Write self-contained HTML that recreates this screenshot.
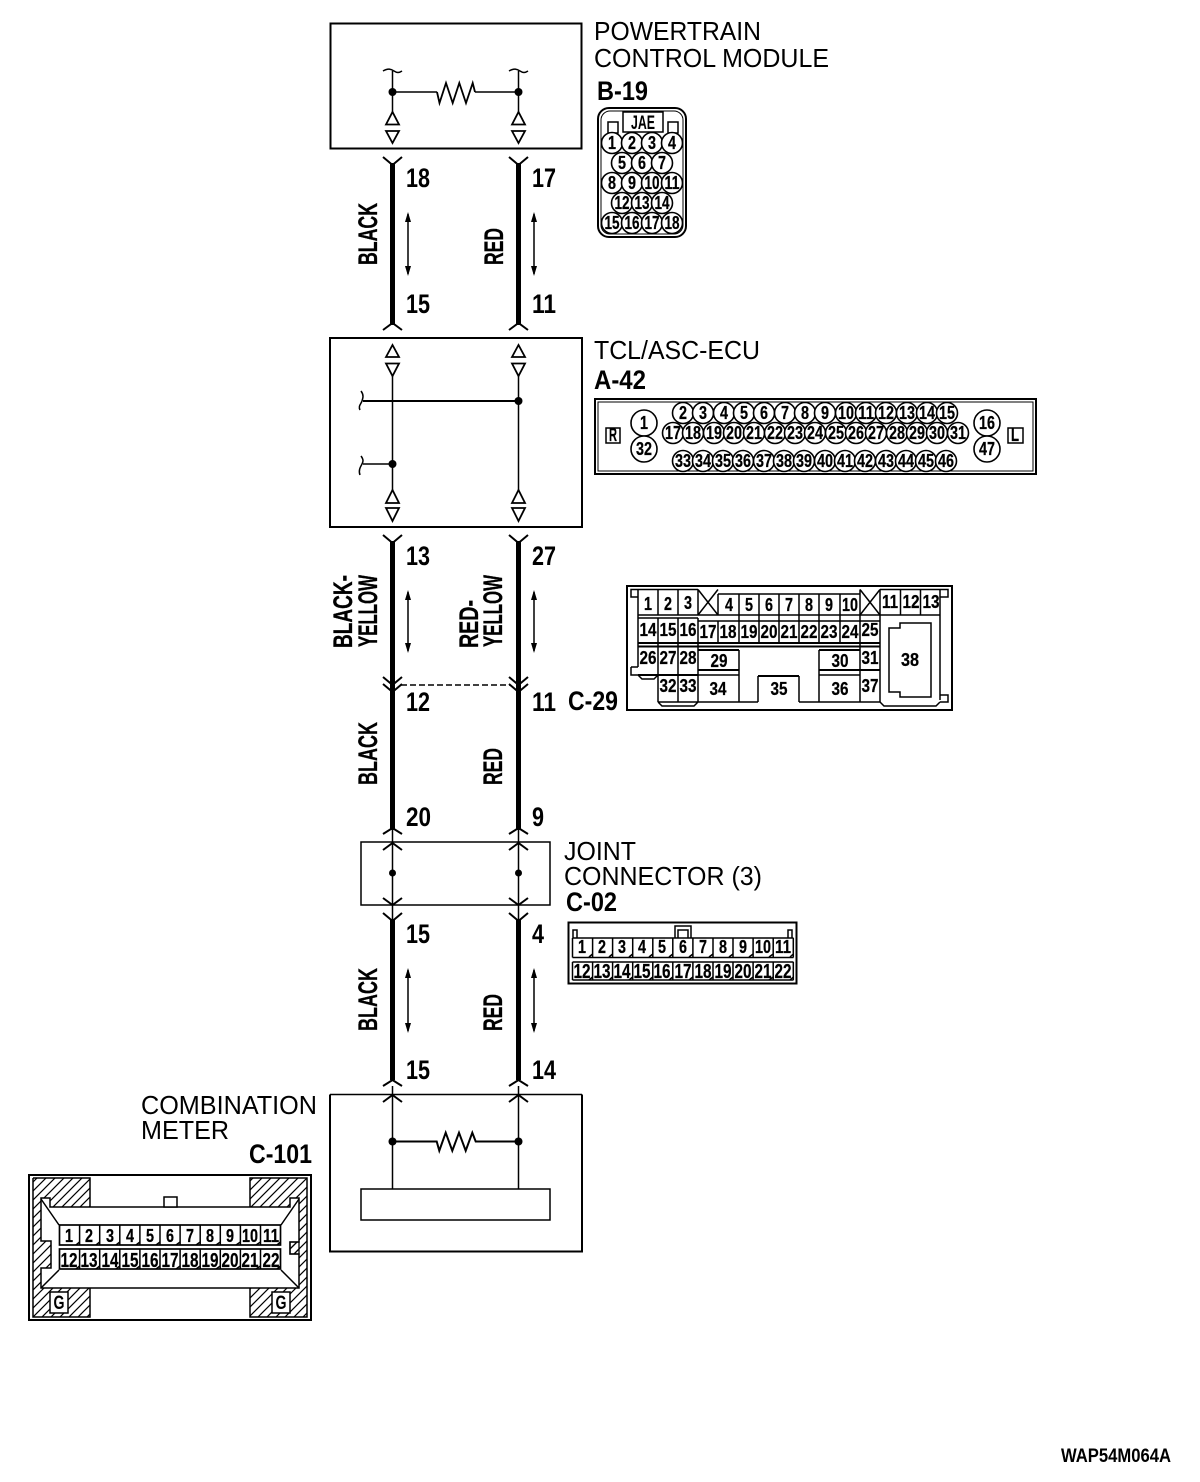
<!DOCTYPE html>
<html><head><meta charset="utf-8">
<style>
html,body{margin:0;padding:0;background:#fff}
svg{display:block}
text{font-family:"Liberation Sans",sans-serif;fill:#000;stroke:none}
.h{font-size:26px}
.n{font-size:27px;font-weight:bold}
.v{font-size:27px;font-weight:bold;stroke:#000;stroke-width:.3}
.p{font-size:18px;font-weight:bold;text-anchor:middle;stroke:#000;stroke-width:.25}
.r{font-size:20px;font-weight:bold;text-anchor:middle;stroke:#000;stroke-width:.25}
.s{font-size:19px;font-weight:bold;text-anchor:middle}
.l{fill:none;stroke:#000;stroke-width:1.5}
.t{fill:none;stroke:#000;stroke-width:1.8}
.m{fill:none;stroke:#000;stroke-width:2}
.w{fill:none;stroke:#000;stroke-width:5}
.c{fill:#fff;stroke:#000;stroke-width:1.6}
.d{fill:#000}
.a{fill:#000;stroke:none}
</style></head>
<body>
<svg xmlns="http://www.w3.org/2000/svg" width="1200" height="1482" viewBox="0 0 1200 1482">
<defs>
<pattern id="hat" patternUnits="userSpaceOnUse" width="9" height="9">
<path d="M-1 1L1 -1M0 9L9 0M8 10L10 8" stroke="#000" stroke-width="1.2"/>
</pattern>
</defs>
<rect width="1200" height="1482" fill="#fff"/>

<!-- Powertrain box -->
<rect class="m" x="330.5" y="23.5" width="251" height="125"/>
<path class="l" d="M392.5 71V112M518.5 71V112M392.5 92H437M475 92H518.5"/>
<path class="t" d="M437 92L439.5 103L446 83L452.7 103L459.3 83L466 103L472.7 83L475 92"/>
<path class="l" d="M383 71C388 68 391 69 394 71S399 73 402 71M509 71C514 68 517 69 520 71S525 73 528 71"/>
<circle class="d" cx="392.5" cy="92" r="4"/><circle class="d" cx="518.5" cy="92" r="4"/>
<path class="t" d="M386 124.500L392.500 112L399 124.500ZM386 131L392.500 143L399 131ZM512 124.500L518.500 112L525 124.500ZM512 131L518.500 143L525 131Z"/>

<!-- Titles -->
<text class="h" x="594" y="40" textLength="167" lengthAdjust="spacingAndGlyphs">POWERTRAIN</text>
<text class="h" x="594" y="67" textLength="235" lengthAdjust="spacingAndGlyphs">CONTROL MODULE</text>
<text class="n" x="597" y="100" textLength="51" lengthAdjust="spacingAndGlyphs">B-19</text>
<text class="h" x="594" y="359" textLength="166" lengthAdjust="spacingAndGlyphs">TCL/ASC-ECU</text>
<text class="n" x="594" y="389" textLength="52" lengthAdjust="spacingAndGlyphs">A-42</text>
<text class="h" x="564" y="860" textLength="72" lengthAdjust="spacingAndGlyphs">JOINT</text>
<text class="h" x="564" y="885" textLength="198" lengthAdjust="spacingAndGlyphs">CONNECTOR (3)</text>
<text class="n" x="566" y="911" textLength="51" lengthAdjust="spacingAndGlyphs">C-02</text>
<text class="h" x="141" y="1114" textLength="176" lengthAdjust="spacingAndGlyphs">COMBINATION</text>
<text class="h" x="141" y="1139" textLength="88" lengthAdjust="spacingAndGlyphs">METER</text>
<text class="n" x="249" y="1163" textLength="63" lengthAdjust="spacingAndGlyphs">C-101</text>
<text class="n" x="568" y="710" textLength="50" lengthAdjust="spacingAndGlyphs">C-29</text>
<text x="1061" y="1462" font-size="19" font-weight="bold" textLength="110" lengthAdjust="spacingAndGlyphs">WAP54M064A</text>

<!-- Harness 1 -->
<path class="w" d="M392.500 163V325M518.500 163V325"/>
<path class="m" d="M383 157L392.500 165L402 157M509 157L518.500 165L528 157M383 330L392.500 323L402 330M509 330L518.500 323L528 330"/>
<text class="n" x="406" y="187" textLength="24" lengthAdjust="spacingAndGlyphs">18</text>
<text class="n" x="532" y="187" textLength="24" lengthAdjust="spacingAndGlyphs">17</text>
<text class="n" x="406" y="313" textLength="24" lengthAdjust="spacingAndGlyphs">15</text>
<text class="n" x="532" y="313" textLength="24" lengthAdjust="spacingAndGlyphs">11</text>
<text class="v" transform="translate(377,265) rotate(-90)" textLength="62" lengthAdjust="spacingAndGlyphs">BLACK</text>
<text class="v" transform="translate(503,265) rotate(-90)" textLength="37" lengthAdjust="spacingAndGlyphs">RED</text>
<path class="l" d="M408 214V274M534 214V274"/>
<path class="a" d="M405 222L408 212L411 222ZM405 266L408 276L411 266ZM531 222L534 212L537 222ZM531 266L534 276L537 266Z"/>

<!-- TCL box -->
<rect class="m" x="330" y="338" width="252" height="189"/>
<path class="l" d="M392.500 376V490M518.500 376V490M363 464H392.500"/>
<path class="m" d="M363 401H518.500"/>
<path class="l" d="M361 391C364 395 363 398 362 401S358 406 360 410M361 456C364 460 363 462 362 464S358 470 360 475"/>
<circle class="d" cx="518.5" cy="401" r="4"/><circle class="d" cx="392.5" cy="464" r="4"/>
<path class="t" d="M386 357L392.500 345L399 357ZM386 363.500L392.500 376L399 363.500ZM512 357L518.500 345L525 357ZM512 363.500L518.500 376L525 363.500ZM386 503L392.500 490L399 503ZM386 508L392.500 521L399 508ZM512 503L518.500 490L525 503ZM512 508L518.500 521L525 508Z"/>

<!-- Harness 2 + 3 -->
<path class="w" d="M392.500 541V830M518.500 541V830"/>
<path class="m" d="M383 535L392.500 543L402 535M509 535L518.500 543L528 535M383 677L392.500 685L402 677M509 677L518.500 685L528 677M383 684L392.500 692L402 684M509 684L518.500 692L528 684M383 834L392.500 828L402 834M509 834L518.500 828L528 834"/>
<path d="M401 685H510" stroke="#000" stroke-width="1.6" stroke-dasharray="6 3" fill="none"/>
<text class="n" x="406" y="565" textLength="24" lengthAdjust="spacingAndGlyphs">13</text>
<text class="n" x="532" y="565" textLength="24" lengthAdjust="spacingAndGlyphs">27</text>
<text class="n" x="406" y="711" textLength="24" lengthAdjust="spacingAndGlyphs">12</text>
<text class="n" x="532" y="711" textLength="24" lengthAdjust="spacingAndGlyphs">11</text>
<text class="n" x="406" y="826" textLength="25" lengthAdjust="spacingAndGlyphs">20</text>
<text class="n" x="532" y="826" textLength="12" lengthAdjust="spacingAndGlyphs">9</text>
<text class="v" transform="translate(352,648) rotate(-90)" textLength="73" lengthAdjust="spacingAndGlyphs">BLACK-</text>
<text class="v" transform="translate(377,647) rotate(-90)" textLength="72" lengthAdjust="spacingAndGlyphs">YELLOW</text>
<text class="v" transform="translate(478,648) rotate(-90)" textLength="48" lengthAdjust="spacingAndGlyphs">RED-</text>
<text class="v" transform="translate(502,647) rotate(-90)" textLength="72" lengthAdjust="spacingAndGlyphs">YELLOW</text>
<text class="v" transform="translate(377,785) rotate(-90)" textLength="63" lengthAdjust="spacingAndGlyphs">BLACK</text>
<text class="v" transform="translate(502,785) rotate(-90)" textLength="37" lengthAdjust="spacingAndGlyphs">RED</text>
<path class="l" d="M408 592V651M534 592V651"/>
<path class="a" d="M405 600L408 590L411 600ZM405 643L408 653L411 643ZM531 600L534 590L537 600ZM531 643L534 653L537 643Z"/>

<!-- Joint box -->
<rect x="361" y="842" width="189" height="63" fill="none" stroke="#000" stroke-width="1.5"/>
<path class="l" d="M392.500 830V920M518.500 830V920"/>
<path class="m" d="M383 850L392.500 843L402 850M509 850L518.500 843L528 850M383 898L392.500 905L402 898M509 898L518.500 905L528 898M383 913L392.500 921L402 913M509 913L518.500 921L528 913"/>
<circle class="d" cx="392.500" cy="873" r="3.500"/><circle class="d" cx="518.500" cy="873" r="3.500"/>

<!-- Harness 4 -->
<path class="w" d="M392.500 919V1080M518.500 919V1080"/>
<path class="m" d="M383 1086L392.500 1080L402 1086M509 1086L518.500 1080L528 1086"/>
<text class="n" x="406" y="943" textLength="24" lengthAdjust="spacingAndGlyphs">15</text>
<text class="n" x="532" y="943" textLength="12" lengthAdjust="spacingAndGlyphs">4</text>
<text class="n" x="406" y="1079" textLength="24" lengthAdjust="spacingAndGlyphs">15</text>
<text class="n" x="532" y="1079" textLength="24" lengthAdjust="spacingAndGlyphs">14</text>
<text class="v" transform="translate(377,1031) rotate(-90)" textLength="63" lengthAdjust="spacingAndGlyphs">BLACK</text>
<text class="v" transform="translate(502,1031) rotate(-90)" textLength="37" lengthAdjust="spacingAndGlyphs">RED</text>
<path class="l" d="M408 970V1031M534 970V1031"/>
<path class="a" d="M405 978L408 968L411 978ZM405 1023L408 1033L411 1023ZM531 978L534 968L537 978ZM531 1023L534 1033L537 1023Z"/>

<!-- Combination meter box -->
<path class="m" d="M330 1094.500V1251.500H582V1094.500"/>
<path class="l" d="M330 1094.500H582M392.500 1086V1189M518.500 1086V1189"/>
<path class="m" d="M383 1102L392.500 1095L402 1102M509 1102L518.500 1095L528 1102M392.500 1141.500H436.700L439.300 1150.700L445.700 1132.700L452.300 1150.700L459 1132.700L465.700 1150.700L472.300 1132.700L475.700 1141.500H518.500"/>
<circle class="d" cx="392.500" cy="1141.500" r="4"/><circle class="d" cx="518.500" cy="1141.500" r="4"/>
<rect x="361" y="1189" width="189" height="31" fill="#fff" stroke="#000" stroke-width="1.500"/>

<!-- B-19 connector -->
<rect class="m" x="598" y="108" width="88" height="129" rx="11"/>
<rect x="601" y="111" width="82" height="123" rx="9" fill="none" stroke="#000" stroke-width="1"/>
<rect class="l" x="623" y="112" width="40" height="20" fill="#fff"/>
<rect class="l" x="608" y="122" width="10" height="11"/>
<rect class="l" x="668" y="122" width="10" height="11"/>
<text class="s" x="643" y="129" textLength="24" lengthAdjust="spacingAndGlyphs">JAE</text>
<g class="c">
<circle cx="612" cy="143" r="10.500"/><circle cx="632" cy="143" r="10.500"/><circle cx="652" cy="143" r="10.500"/><circle cx="672" cy="143" r="10.500"/>
<circle cx="622" cy="163" r="10.500"/><circle cx="642" cy="163" r="10.500"/><circle cx="662" cy="163" r="10.500"/>
<circle cx="612" cy="183" r="10.500"/><circle cx="632" cy="183" r="10.500"/><circle cx="652" cy="183" r="10.500"/><circle cx="672" cy="183" r="10.500"/>
<circle cx="622" cy="203" r="10.500"/><circle cx="642" cy="203" r="10.500"/><circle cx="662" cy="203" r="10.500"/>
<circle cx="612" cy="223" r="10.500"/><circle cx="632" cy="223" r="10.500"/><circle cx="652" cy="223" r="10.500"/><circle cx="672" cy="223" r="10.500"/>
</g>
<text class="p" x="612" y="149" textLength="8" lengthAdjust="spacingAndGlyphs">1</text><text class="p" x="632" y="149" textLength="8" lengthAdjust="spacingAndGlyphs">2</text><text class="p" x="652" y="149" textLength="8" lengthAdjust="spacingAndGlyphs">3</text><text class="p" x="672" y="149" textLength="8" lengthAdjust="spacingAndGlyphs">4</text>
<text class="p" x="622" y="169" textLength="8" lengthAdjust="spacingAndGlyphs">5</text><text class="p" x="642" y="169" textLength="8" lengthAdjust="spacingAndGlyphs">6</text><text class="p" x="662" y="169" textLength="8" lengthAdjust="spacingAndGlyphs">7</text>
<text class="p" x="612" y="189" textLength="8" lengthAdjust="spacingAndGlyphs">8</text><text class="p" x="632" y="189" textLength="8" lengthAdjust="spacingAndGlyphs">9</text><text class="p" x="652" y="189" textLength="15" lengthAdjust="spacingAndGlyphs">10</text><text class="p" x="672" y="189" textLength="15" lengthAdjust="spacingAndGlyphs">11</text>
<text class="p" x="622" y="209" textLength="15" lengthAdjust="spacingAndGlyphs">12</text><text class="p" x="642" y="209" textLength="15" lengthAdjust="spacingAndGlyphs">13</text><text class="p" x="662" y="209" textLength="15" lengthAdjust="spacingAndGlyphs">14</text>
<text class="p" x="612" y="229" textLength="15" lengthAdjust="spacingAndGlyphs">15</text><text class="p" x="632" y="229" textLength="15" lengthAdjust="spacingAndGlyphs">16</text><text class="p" x="652" y="229" textLength="15" lengthAdjust="spacingAndGlyphs">17</text><text class="p" x="672" y="229" textLength="15" lengthAdjust="spacingAndGlyphs">18</text>

<!-- A-42 connector -->
<rect class="m" x="595" y="399" width="441" height="75"/>
<rect x="598" y="402" width="435" height="69" fill="none" stroke="#000" stroke-width="1"/>
<rect class="l" x="606" y="428" width="14" height="15"/>
<rect class="l" x="1008" y="428" width="15" height="15"/>
<text class="p" x="613" y="441" textLength="8" lengthAdjust="spacingAndGlyphs">R</text>
<text class="p" x="1015" y="441" textLength="8" lengthAdjust="spacingAndGlyphs">L</text>
<g class="c">
<circle cx="644" cy="423" r="13"/><circle cx="644" cy="449" r="13"/><circle cx="987" cy="423" r="13"/><circle cx="987" cy="449" r="13"/>
<circle cx="683" cy="413" r="10.500"/><circle cx="703" cy="413" r="10.500"/><circle cx="724" cy="413" r="10.500"/><circle cx="744" cy="413" r="10.500"/><circle cx="764" cy="413" r="10.500"/><circle cx="785" cy="413" r="10.500"/><circle cx="805" cy="413" r="10.500"/><circle cx="825" cy="413" r="10.500"/><circle cx="846" cy="413" r="10.500"/><circle cx="866" cy="413" r="10.500"/><circle cx="886" cy="413" r="10.500"/><circle cx="907" cy="413" r="10.500"/><circle cx="927" cy="413" r="10.500"/><circle cx="947" cy="413" r="10.500"/>
<circle cx="673" cy="433" r="10.500"/><circle cx="693" cy="433" r="10.500"/><circle cx="714" cy="433" r="10.500"/><circle cx="734" cy="433" r="10.500"/><circle cx="754" cy="433" r="10.500"/><circle cx="775" cy="433" r="10.500"/><circle cx="795" cy="433" r="10.500"/><circle cx="815" cy="433" r="10.500"/><circle cx="836" cy="433" r="10.500"/><circle cx="856" cy="433" r="10.500"/><circle cx="876" cy="433" r="10.500"/><circle cx="897" cy="433" r="10.500"/><circle cx="917" cy="433" r="10.500"/><circle cx="937" cy="433" r="10.500"/><circle cx="958" cy="433" r="10.500"/>
<circle cx="683" cy="461" r="10.500"/><circle cx="703" cy="461" r="10.500"/><circle cx="723" cy="461" r="10.500"/><circle cx="743" cy="461" r="10.500"/><circle cx="764" cy="461" r="10.500"/><circle cx="784" cy="461" r="10.500"/><circle cx="804" cy="461" r="10.500"/><circle cx="825" cy="461" r="10.500"/><circle cx="845" cy="461" r="10.500"/><circle cx="865" cy="461" r="10.500"/><circle cx="886" cy="461" r="10.500"/><circle cx="906" cy="461" r="10.500"/><circle cx="926" cy="461" r="10.500"/><circle cx="946" cy="461" r="10.500"/>
</g>
<text class="p" x="644" y="429" textLength="8" lengthAdjust="spacingAndGlyphs">1</text><text class="p" x="644" y="455" textLength="16" lengthAdjust="spacingAndGlyphs">32</text><text class="p" x="987" y="429" textLength="16" lengthAdjust="spacingAndGlyphs">16</text><text class="p" x="987" y="455" textLength="16" lengthAdjust="spacingAndGlyphs">47</text>
<text class="p" x="683" y="419" textLength="8" lengthAdjust="spacingAndGlyphs">2</text><text class="p" x="703" y="419" textLength="8" lengthAdjust="spacingAndGlyphs">3</text><text class="p" x="724" y="419" textLength="8" lengthAdjust="spacingAndGlyphs">4</text><text class="p" x="744" y="419" textLength="8" lengthAdjust="spacingAndGlyphs">5</text><text class="p" x="764" y="419" textLength="8" lengthAdjust="spacingAndGlyphs">6</text><text class="p" x="785" y="419" textLength="8" lengthAdjust="spacingAndGlyphs">7</text><text class="p" x="805" y="419" textLength="8" lengthAdjust="spacingAndGlyphs">8</text><text class="p" x="825" y="419" textLength="8" lengthAdjust="spacingAndGlyphs">9</text><text class="p" x="846" y="419" textLength="16" lengthAdjust="spacingAndGlyphs">10</text><text class="p" x="866" y="419" textLength="16" lengthAdjust="spacingAndGlyphs">11</text><text class="p" x="886" y="419" textLength="16" lengthAdjust="spacingAndGlyphs">12</text><text class="p" x="907" y="419" textLength="16" lengthAdjust="spacingAndGlyphs">13</text><text class="p" x="927" y="419" textLength="16" lengthAdjust="spacingAndGlyphs">14</text><text class="p" x="947" y="419" textLength="16" lengthAdjust="spacingAndGlyphs">15</text>
<text class="p" x="673" y="439" textLength="16" lengthAdjust="spacingAndGlyphs">17</text><text class="p" x="693" y="439" textLength="16" lengthAdjust="spacingAndGlyphs">18</text><text class="p" x="714" y="439" textLength="16" lengthAdjust="spacingAndGlyphs">19</text><text class="p" x="734" y="439" textLength="16" lengthAdjust="spacingAndGlyphs">20</text><text class="p" x="754" y="439" textLength="16" lengthAdjust="spacingAndGlyphs">21</text><text class="p" x="775" y="439" textLength="16" lengthAdjust="spacingAndGlyphs">22</text><text class="p" x="795" y="439" textLength="16" lengthAdjust="spacingAndGlyphs">23</text><text class="p" x="815" y="439" textLength="16" lengthAdjust="spacingAndGlyphs">24</text><text class="p" x="836" y="439" textLength="16" lengthAdjust="spacingAndGlyphs">25</text><text class="p" x="856" y="439" textLength="16" lengthAdjust="spacingAndGlyphs">26</text><text class="p" x="876" y="439" textLength="16" lengthAdjust="spacingAndGlyphs">27</text><text class="p" x="897" y="439" textLength="16" lengthAdjust="spacingAndGlyphs">28</text><text class="p" x="917" y="439" textLength="16" lengthAdjust="spacingAndGlyphs">29</text><text class="p" x="937" y="439" textLength="16" lengthAdjust="spacingAndGlyphs">30</text><text class="p" x="958" y="439" textLength="16" lengthAdjust="spacingAndGlyphs">31</text>
<text class="p" x="683" y="467" textLength="16" lengthAdjust="spacingAndGlyphs">33</text><text class="p" x="703" y="467" textLength="16" lengthAdjust="spacingAndGlyphs">34</text><text class="p" x="723" y="467" textLength="16" lengthAdjust="spacingAndGlyphs">35</text><text class="p" x="743" y="467" textLength="16" lengthAdjust="spacingAndGlyphs">36</text><text class="p" x="764" y="467" textLength="16" lengthAdjust="spacingAndGlyphs">37</text><text class="p" x="784" y="467" textLength="16" lengthAdjust="spacingAndGlyphs">38</text><text class="p" x="804" y="467" textLength="16" lengthAdjust="spacingAndGlyphs">39</text><text class="p" x="825" y="467" textLength="16" lengthAdjust="spacingAndGlyphs">40</text><text class="p" x="845" y="467" textLength="16" lengthAdjust="spacingAndGlyphs">41</text><text class="p" x="865" y="467" textLength="16" lengthAdjust="spacingAndGlyphs">42</text><text class="p" x="886" y="467" textLength="16" lengthAdjust="spacingAndGlyphs">43</text><text class="p" x="906" y="467" textLength="16" lengthAdjust="spacingAndGlyphs">44</text><text class="p" x="926" y="467" textLength="16" lengthAdjust="spacingAndGlyphs">45</text><text class="p" x="946" y="467" textLength="16" lengthAdjust="spacingAndGlyphs">46</text>

<!-- C-29 connector -->
<rect class="m" x="627" y="586" width="325" height="124"/>
<path class="l" d="M638 589.500H698M638 589.500V667M638 589.500H631V597H638M940 589.500H948V597H940M880 589.500H940V700M718 594H860M698 589.500V615M658 589.500V615M678 589.500V615M718 594V615M739 594V642M759 594V642M779 594V642M799 594V642M819 594V642M840 594V642M860 589.500V702M880 589.500V702M900.500 589.500V615M920.500 589.500V615"/>
<path class="l" d="M698 589.500L718 615M718 589.500L698 615M860 589.500L880 615M880 589.500L860 615"/>
<path class="l" d="M638 615H880M638 618H698M698 621H880M880 615H940"/>
<path class="m" d="M638 643H880M638 646.500H880"/>
<path class="l" d="M658 618V675M678 618V675M698 618V702M718 621V642"/>
<path class="m" d="M698 650H739M819 650H860M698 670H739M819 670H860M638 675H698M860 670H880M758 676H799"/>
<path class="l" d="M698 675H739M819 675H860M698 702H739M819 702H880M739 650V702M819 650V702M758 676V702M799 676V702M739 702H758M799 702H819M631 667H638M631 667V675H638M658 675V702M678 675V702M658 702H698M638 675L642 679H654L658 675M658 702L662 706H694L698 702M880 702L884 706H936L940 702M940 695H948V702H940"/>
<path class="l" d="M889 628H900V623H931V697H900V692H889Z"/>
<text class="p" x="648" y="610" textLength="8" lengthAdjust="spacingAndGlyphs">1</text><text class="p" x="668" y="610" textLength="8" lengthAdjust="spacingAndGlyphs">2</text><text class="p" x="688" y="609" textLength="8" lengthAdjust="spacingAndGlyphs">3</text><text class="p" x="729" y="611" textLength="8" lengthAdjust="spacingAndGlyphs">4</text><text class="p" x="749" y="611" textLength="8" lengthAdjust="spacingAndGlyphs">5</text><text class="p" x="769" y="611" textLength="8" lengthAdjust="spacingAndGlyphs">6</text><text class="p" x="789" y="611" textLength="8" lengthAdjust="spacingAndGlyphs">7</text><text class="p" x="809" y="611" textLength="8" lengthAdjust="spacingAndGlyphs">8</text><text class="p" x="829" y="611" textLength="8" lengthAdjust="spacingAndGlyphs">9</text><text class="p" x="850" y="611" textLength="16" lengthAdjust="spacingAndGlyphs">10</text><text class="p" x="890" y="608" textLength="16" lengthAdjust="spacingAndGlyphs">11</text><text class="p" x="911" y="608" textLength="17" lengthAdjust="spacingAndGlyphs">12</text><text class="p" x="931" y="608" textLength="17" lengthAdjust="spacingAndGlyphs">13</text>
<text class="p" x="648" y="636" textLength="17" lengthAdjust="spacingAndGlyphs">14</text><text class="p" x="668" y="636" textLength="17" lengthAdjust="spacingAndGlyphs">15</text><text class="p" x="688" y="636" textLength="17" lengthAdjust="spacingAndGlyphs">16</text><text class="p" x="708" y="638" textLength="17" lengthAdjust="spacingAndGlyphs">17</text><text class="p" x="728" y="638" textLength="17" lengthAdjust="spacingAndGlyphs">18</text><text class="p" x="749" y="638" textLength="17" lengthAdjust="spacingAndGlyphs">19</text><text class="p" x="769" y="638" textLength="17" lengthAdjust="spacingAndGlyphs">20</text><text class="p" x="789" y="638" textLength="17" lengthAdjust="spacingAndGlyphs">21</text><text class="p" x="809" y="638" textLength="17" lengthAdjust="spacingAndGlyphs">22</text><text class="p" x="829" y="638" textLength="17" lengthAdjust="spacingAndGlyphs">23</text><text class="p" x="850" y="638" textLength="17" lengthAdjust="spacingAndGlyphs">24</text><text class="p" x="870" y="636" textLength="17" lengthAdjust="spacingAndGlyphs">25</text>
<text class="p" x="648" y="664" textLength="17" lengthAdjust="spacingAndGlyphs">26</text><text class="p" x="668" y="664" textLength="17" lengthAdjust="spacingAndGlyphs">27</text><text class="p" x="688" y="664" textLength="17" lengthAdjust="spacingAndGlyphs">28</text><text class="p" x="719" y="667" textLength="17" lengthAdjust="spacingAndGlyphs">29</text><text class="p" x="840" y="667" textLength="17" lengthAdjust="spacingAndGlyphs">30</text><text class="p" x="870" y="664" textLength="17" lengthAdjust="spacingAndGlyphs">31</text><text class="p" x="910" y="666" textLength="18" lengthAdjust="spacingAndGlyphs">38</text>
<text class="p" x="668" y="692" textLength="17" lengthAdjust="spacingAndGlyphs">32</text><text class="p" x="688" y="692" textLength="17" lengthAdjust="spacingAndGlyphs">33</text><text class="p" x="718" y="695" textLength="17" lengthAdjust="spacingAndGlyphs">34</text><text class="p" x="779" y="695" textLength="17" lengthAdjust="spacingAndGlyphs">35</text><text class="p" x="840" y="695" textLength="17" lengthAdjust="spacingAndGlyphs">36</text><text class="p" x="870" y="692" textLength="17" lengthAdjust="spacingAndGlyphs">37</text>

<!-- C-02 connector -->
<rect class="m" x="568.500" y="922.500" width="228" height="61"/>
<path class="l" d="M572.500 938H793.500M572.500 957.500H793.500M572.500 962H793.500M572.500 980H793.500M572.500 938V957.500M572.500 962V980M592.600 938V957.500M612.600 938V957.500M632.700 938V957.500M652.800 938V957.500M672.800 938V957.500M692.900 938V957.500M713 938V957.500M733 938V957.500M753.100 938V957.500M773.200 938V957.500M793.300 938V957.500M592.600 962V980M612.600 962V980M632.700 962V980M652.800 962V980M672.800 962V980M692.900 962V980M713 962V980M733 962V980M753.100 962V980M773.200 962V980M793.300 962V980"/>
<path class="l" d="M675 938V926H691V938M678 938V930H688V938M573 938V930H577V938M788 938V930H792V938"/>
<path class="l" d="M589 957L592.600 954M609 957L612.600 954M629 957L632.700 954M649 957L652.800 954M669 957L672.800 954M689 957L692.900 954M709 957L713 954M729 957L733 954M749 957L753.100 954M769 957L773.200 954M790 957L793.300 954M589 980L592.600 977M609 980L612.600 977M629 980L632.700 977M649 980L652.800 977M669 980L672.800 977M689 980L692.900 977M709 980L713 977M729 980L733 977M749 980L753.100 977M769 980L773.200 977M790 980L793.300 977"/>
<text class="p" x="582" y="953" textLength="8" lengthAdjust="spacingAndGlyphs">1</text><text class="p" x="602" y="953" textLength="8" lengthAdjust="spacingAndGlyphs">2</text><text class="p" x="622" y="953" textLength="8" lengthAdjust="spacingAndGlyphs">3</text><text class="p" x="642" y="953" textLength="8" lengthAdjust="spacingAndGlyphs">4</text><text class="p" x="662" y="953" textLength="8" lengthAdjust="spacingAndGlyphs">5</text><text class="p" x="683" y="953" textLength="8" lengthAdjust="spacingAndGlyphs">6</text><text class="p" x="703" y="953" textLength="8" lengthAdjust="spacingAndGlyphs">7</text><text class="p" x="723" y="953" textLength="8" lengthAdjust="spacingAndGlyphs">8</text><text class="p" x="743" y="953" textLength="8" lengthAdjust="spacingAndGlyphs">9</text><text class="p" x="763" y="953" textLength="16" lengthAdjust="spacingAndGlyphs">10</text><text class="p" x="783" y="953" textLength="16" lengthAdjust="spacingAndGlyphs">11</text>
<text class="r" x="582" y="978" textLength="17" lengthAdjust="spacingAndGlyphs">12</text><text class="r" x="602" y="978" textLength="17" lengthAdjust="spacingAndGlyphs">13</text><text class="r" x="622" y="978" textLength="17" lengthAdjust="spacingAndGlyphs">14</text><text class="r" x="642" y="978" textLength="17" lengthAdjust="spacingAndGlyphs">15</text><text class="r" x="662" y="978" textLength="17" lengthAdjust="spacingAndGlyphs">16</text><text class="r" x="683" y="978" textLength="17" lengthAdjust="spacingAndGlyphs">17</text><text class="r" x="703" y="978" textLength="17" lengthAdjust="spacingAndGlyphs">18</text><text class="r" x="723" y="978" textLength="17" lengthAdjust="spacingAndGlyphs">19</text><text class="r" x="743" y="978" textLength="17" lengthAdjust="spacingAndGlyphs">20</text><text class="r" x="763" y="978" textLength="17" lengthAdjust="spacingAndGlyphs">21</text><text class="r" x="783" y="978" textLength="17" lengthAdjust="spacingAndGlyphs">22</text>

<!-- C-101 connector -->
<rect class="m" x="29" y="1175" width="282" height="145"/>
<path d="M33 1178H90V1207H250V1178H307V1317H250V1288H90V1317H33Z" fill="url(#hat)" stroke="none"/>
<path class="l" d="M33 1178H90V1207M250 1207V1178H307V1317H250V1288M90 1288V1317H33V1178"/>
<rect x="90" y="1207" width="160" height="81" fill="#fff"/>
<path d="M41 1198H50V1207H290V1198H299V1242H290V1254H299V1288H41V1268H51V1241H41Z" fill="#fff" stroke="#000" stroke-width="1.500"/>
<path class="l" d="M41 1199L59 1225M299 1199L281 1225M41 1288L59 1270M299 1288L281 1270"/>
<path d="M290 1242H299V1254H290Z" fill="url(#hat)" stroke="#000" stroke-width="1.300"/>
<rect x="164" y="1197" width="13" height="10" fill="#fff" stroke="#000" stroke-width="1.500"/>
<rect x="59.500" y="1225" width="221" height="20" fill="#fff" stroke="#000" stroke-width="1.700"/>
<rect x="59.500" y="1249" width="221" height="20" fill="#fff" stroke="#000" stroke-width="1.700"/>
<path class="l" d="M79.600 1225V1245M99.700 1225V1245M119.800 1225V1245M139.900 1225V1245M160 1225V1245M180.100 1225V1245M200.200 1225V1245M220.300 1225V1245M240.400 1225V1245M260.500 1225V1245M79.600 1249V1269M99.700 1249V1269M119.800 1249V1269M139.900 1249V1269M160 1249V1269M180.100 1249V1269M200.200 1249V1269M220.300 1249V1269M240.400 1249V1269M260.500 1249V1269"/>
<path class="l" d="M76 1245L79.600 1242M96 1245L99.700 1242M116 1245L119.800 1242M136 1245L139.900 1242M156 1245L160 1242M176 1245L180.100 1242M196 1245L200.200 1242M216 1245L220.300 1242M236 1245L240.400 1242M256 1245L260.500 1242M277 1245L280.500 1242M76 1269L79.600 1266M96 1269L99.700 1266M116 1269L119.800 1266M136 1269L139.900 1266M156 1269L160 1266M176 1269L180.100 1266M196 1269L200.200 1266M216 1269L220.300 1266M236 1269L240.400 1266M256 1269L260.500 1266M277 1269L280.500 1266"/>
<rect x="50" y="1292" width="18" height="21" fill="#fff" stroke="#000" stroke-width="1.500"/>
<rect x="272" y="1292" width="18" height="21" fill="#fff" stroke="#000" stroke-width="1.500"/>
<text class="s" x="59" y="1309" textLength="11" lengthAdjust="spacingAndGlyphs">G</text>
<text class="s" x="281" y="1309" textLength="11" lengthAdjust="spacingAndGlyphs">G</text>
<text class="p" x="69" y="1242" textLength="8" lengthAdjust="spacingAndGlyphs">1</text><text class="p" x="89" y="1242" textLength="8" lengthAdjust="spacingAndGlyphs">2</text><text class="p" x="110" y="1242" textLength="8" lengthAdjust="spacingAndGlyphs">3</text><text class="p" x="130" y="1242" textLength="8" lengthAdjust="spacingAndGlyphs">4</text><text class="p" x="150" y="1242" textLength="8" lengthAdjust="spacingAndGlyphs">5</text><text class="p" x="170" y="1242" textLength="8" lengthAdjust="spacingAndGlyphs">6</text><text class="p" x="190" y="1242" textLength="8" lengthAdjust="spacingAndGlyphs">7</text><text class="p" x="210" y="1242" textLength="8" lengthAdjust="spacingAndGlyphs">8</text><text class="p" x="230" y="1242" textLength="8" lengthAdjust="spacingAndGlyphs">9</text><text class="p" x="250" y="1242" textLength="16" lengthAdjust="spacingAndGlyphs">10</text><text class="p" x="271" y="1242" textLength="16" lengthAdjust="spacingAndGlyphs">11</text>
<text class="r" x="69" y="1267" textLength="17" lengthAdjust="spacingAndGlyphs">12</text><text class="r" x="89" y="1267" textLength="17" lengthAdjust="spacingAndGlyphs">13</text><text class="r" x="110" y="1267" textLength="17" lengthAdjust="spacingAndGlyphs">14</text><text class="r" x="130" y="1267" textLength="17" lengthAdjust="spacingAndGlyphs">15</text><text class="r" x="150" y="1267" textLength="17" lengthAdjust="spacingAndGlyphs">16</text><text class="r" x="170" y="1267" textLength="17" lengthAdjust="spacingAndGlyphs">17</text><text class="r" x="190" y="1267" textLength="17" lengthAdjust="spacingAndGlyphs">18</text><text class="r" x="210" y="1267" textLength="17" lengthAdjust="spacingAndGlyphs">19</text><text class="r" x="230" y="1267" textLength="17" lengthAdjust="spacingAndGlyphs">20</text><text class="r" x="250" y="1267" textLength="17" lengthAdjust="spacingAndGlyphs">21</text><text class="r" x="271" y="1267" textLength="17" lengthAdjust="spacingAndGlyphs">22</text>
</svg>
</body></html>
